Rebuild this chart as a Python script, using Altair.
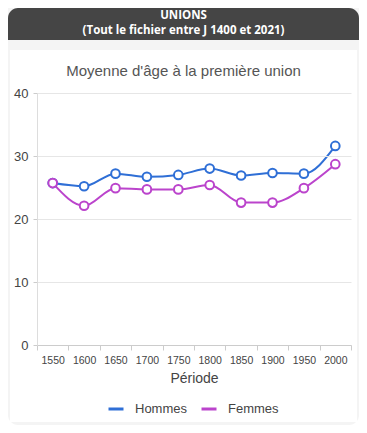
import altair as alt
import pandas as pd

periods = ["1550", "1600", "1650", "1700", "1750", "1800", "1850", "1900", "1950", "2000"]
hommes = [25.7, 25.2, 27.2, 26.7, 27.0, 28.0, 26.9, 27.3, 27.2, 31.6]
femmes = [25.7, 22.1, 24.9, 24.7, 24.7, 25.4, 22.6, 22.6, 24.9, 28.7]
series = ["Hommes", "Femmes"]
colors = ["#2f6fd6", "#bb44cc"]

header_lines = ["UNIONS", "(Tout le fichier entre J 1400 et 2021)"]
chart_title = "Moyenne d'âge à la première union"

rows = []
for name, vals in zip(series, [hommes, femmes]):
    for p, v in zip(periods, vals):
        rows.append({"Période": p, "Âge": v, "Sexe": name})
df = pd.DataFrame(rows)

W, H = 314, 252
FONT = "Liberation Sans"

one = pd.DataFrame({"k": [0]})

gray_bg = alt.Chart(one).mark_rect(
    fill="#f4f4f4", cornerRadiusBottomLeft=10, cornerRadiusBottomRight=10
).encode(x=alt.value(-29), x2=alt.value(322), y=alt.value(-85), y2=alt.value(332))

header = alt.Chart(one).mark_rect(
    fill="#454545", cornerRadiusTopLeft=10, cornerRadiusTopRight=10
).encode(x=alt.value(-29), x2=alt.value(322), y=alt.value(-85), y2=alt.value(-53))

card = alt.Chart(one).mark_rect(fill="white").encode(
    x=alt.value(-27), x2=alt.value(320), y=alt.value(-43), y2=alt.value(329)
)

h1 = alt.Chart(pd.DataFrame({"t": [header_lines[0]]})).mark_text(
    font="Open Sans", fontSize=11.5, fontWeight="bold", color="white", baseline="middle"
).encode(text="t:N", x=alt.value(146.5), y=alt.value(-77))

h2 = alt.Chart(pd.DataFrame({"t": [header_lines[1]]})).mark_text(
    font="Open Sans", fontSize=11.5, fontWeight="bold", color="white", baseline="middle"
).encode(text="t:N", x=alt.value(146.5), y=alt.value(-62))

title = alt.Chart(pd.DataFrame({"t": [chart_title]})).mark_text(
    font=FONT, fontSize=15, color="#555555", baseline="middle"
).encode(text="t:N", x=alt.value(146.5), y=alt.value(-22))

color = alt.Color(
    "Sexe:N",
    scale=alt.Scale(domain=series, range=colors),
    legend=alt.Legend(
        title=None,
        orient="none",
        direction="horizontal",
        legendX=70,
        legendY=307,
        symbolType="stroke",
        symbolStrokeWidth=3,
        symbolSize=225,
        labelFont=FONT,
        labelFontSize=13,
        labelColor="#444444",
        labelOffset=10,
        columnPadding=7,
        padding=0,
    ),
)

base = alt.Chart(df).encode(
    x=alt.X(
        "Période:O",
        sort=periods,
        scale=alt.Scale(type="band", paddingInner=0, paddingOuter=0),
        axis=alt.Axis(
            title="Période",
            labelAngle=0,
            tickBand="extent",
            grid=False,
            zindex=1,
            domainColor="#cccccc",
            tickColor="#cccccc",
            tickSize=5,
            labelFont=FONT,
            labelFontSize=10.5,
            labelColor="#444444",
            labelPadding=5,
            titleFont=FONT,
            titleFontSize=14,
            titleFontWeight="normal",
            titleColor="#444444",
            titlePadding=6,
        ),
    ),
    y=alt.Y(
        "Âge:Q",
        scale=alt.Scale(domain=[0, 40]),
        axis=alt.Axis(
            title=None,
            values=[0, 10, 20, 30, 40],
            zindex=1,
            gridColor="#e6e6e6",
            domainColor="#dddddd",
            tickColor="#cccccc",
            tickSize=4,
            labelFont=FONT,
            labelFontSize=13,
            labelColor="#444444",
            labelPadding=5,
        ),
    ),
    color=color,
)

lines = base.mark_line(interpolate="monotone", strokeWidth=2)
points = base.mark_point(filled=False, fill="white", size=75, strokeWidth=2, opacity=1)

chart = alt.layer(gray_bg, header, card, h1, h2, title, lines, points).properties(
    width=W,
    height=H,
    autosize=alt.AutoSizeParams(type="none"),
    padding={"left": 29, "top": 85, "right": 8, "bottom": 80},
    background="white",
).configure_view(stroke=None)

chart.save("out.html", embed_options={"renderer": "svg", "actions": False})
